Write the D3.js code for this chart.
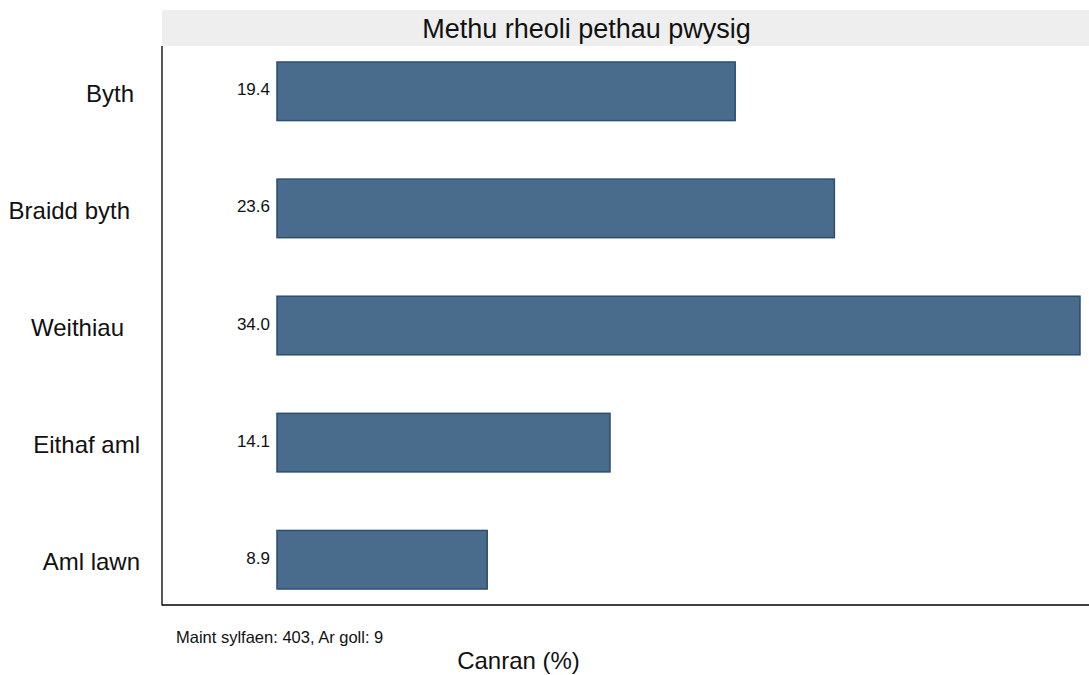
<!DOCTYPE html>
<html><head><meta charset="utf-8">
<script src="https://cdn.jsdelivr.net/npm/d3@7"></script>
<style>
html,body{margin:0;padding:0;background:#fff;}
text{font-family:"Liberation Sans", Arial, Helvetica, sans-serif;fill:#111;}
</style></head>
<body>
<svg id="chart" width="1089" height="675"></svg>
<script>
const categories = ["Byth", "Braidd byth", "Weithiau", "Eithaf aml", "Aml lawn"];
const values = [19.4, 23.6, 34.0, 14.1, 8.9];
const title = "Methu rheoli pethau pwysig";
const xTitle = "Canran (%)";
const note = "Maint sylfaen: 403, Ar goll: 9";
const labelShift = [-6, -10, -16, 0, 0];

const svg = d3.select("#chart");
const x = d3.scaleLinear().domain([0, 34]).range([277, 1080]);
const y = d3.scaleBand().domain(categories).range([62, 589]).paddingInner(0.5).paddingOuter(0);

// strip
svg.append("rect").attr("x", 162).attr("y", 10).attr("width", 927).attr("height", 36).attr("fill", "#eeeeee");
svg.append("text").attr("x", 586.5).attr("y", 38).attr("text-anchor", "middle").attr("font-size", 27).text(title);

// bars
svg.selectAll("rect.bar").data(values).enter().append("rect").attr("class", "bar")
  .attr("x", x(0)).attr("y", (d, i) => y(categories[i]))
  .attr("width", d => x(d) - x(0)).attr("height", y.bandwidth())
  .attr("fill", "#4a6c8c").attr("stroke", "#2b4d70").attr("stroke-width", 1.5);

svg.selectAll("text.val").data(values).enter().append("text").attr("class", "val")
  .attr("x", x(0) - 7).attr("y", (d, i) => y(categories[i]) + y.bandwidth() / 2 + 4)
  .attr("text-anchor", "end").attr("font-size", 17)
  .text(d => d.toFixed(1));

// y axis
const yAxis = d3.axisLeft(y).tickSize(0).tickPadding(0);
const gy = svg.append("g").attr("transform", "translate(162,0)").call(yAxis);
gy.select(".domain").remove();
gy.selectAll("text").attr("font-size", 24).attr("fill", "#111")
  .attr("font-family", '"Liberation Sans", Arial, sans-serif')
  .attr("dy", "0.43em")
  .attr("x", (d, i) => -22 + labelShift[i]).attr("text-anchor", "end");

svg.append("line").attr("x1", 162).attr("x2", 162).attr("y1", 46).attr("y2", 605.5).attr("stroke", "#000").attr("stroke-width", 1.3);
svg.append("line").attr("x1", 162).attr("x2", 1089).attr("y1", 605).attr("y2", 605).attr("stroke", "#000").attr("stroke-width", 1.3);

svg.append("text").attr("x", 176).attr("y", 643).attr("font-size", 16.5).text(note);
svg.append("text").attr("x", 518.5).attr("y", 669).attr("text-anchor", "middle").attr("font-size", 24).text(xTitle);
</script>
</body></html>
